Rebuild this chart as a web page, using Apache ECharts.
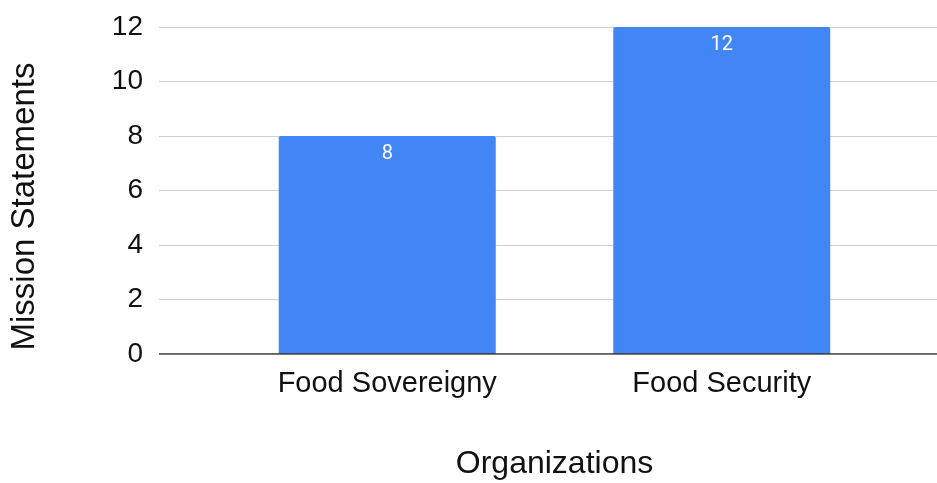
<!DOCTYPE html>
<html>
<head>
<meta charset="utf-8">
<script src="https://cdn.jsdelivr.net/npm/echarts@6/dist/echarts.min.js"></script>
<style>html,body{margin:0;padding:0;background:#fff}#c{width:937px;height:483px}</style>
</head>
<body>
<div id="c"></div>
<script>
const categories = ["Food Sovereigny", "Food Security"];
const values = [8, 12];
const yTicks = [0, 2, 4, 6, 8, 10, 12];

const FONT = "'Liberation Sans', Arial, sans-serif";
const chart = echarts.init(document.getElementById('c'));
chart.setOption({
  animation: false,
  grid: [
    { left: 159, right: 0, top: 27, bottom: 129, outerBoundsMode: 'none', containLabel: false },
    { left: 220, right: 48, top: 27, bottom: 129, outerBoundsMode: 'none', containLabel: false }
  ],
  xAxis: [
    { gridIndex: 0, type: 'value', min: 0, max: 1, show: false },
    {
      gridIndex: 1, type: 'category', data: categories,
      axisLine: { show: false }, axisTick: { show: false },
      axisLabel: { color: '#111', fontSize: 29, fontFamily: FONT, margin: 15 },
      name: 'Organizations', nameLocation: 'middle', nameGap: 94,
      nameTextStyle: { color: '#111', fontSize: 32, fontFamily: FONT }
    }
  ],
  yAxis: [
    {
      gridIndex: 0, type: 'value', min: yTicks[0], max: yTicks[yTicks.length - 1], interval: 2,
      axisLine: { show: false }, axisTick: { show: false },
      axisLabel: { color: '#111', fontSize: 28, fontFamily: FONT, margin: 16 },
      splitLine: { lineStyle: { color: '#d0d0d0', width: 1 } },
      name: 'Mission Statements', nameLocation: 'middle', nameGap: 118,
      nameTextStyle: { color: '#111', fontSize: 33, fontFamily: FONT, padding: [0, 32, 0, 0] }
    },
    {
      gridIndex: 1, type: 'value', min: yTicks[0], max: yTicks[yTicks.length - 1], interval: 2,
      show: false, splitLine: { show: false }
    }
  ],
  series: [
    {
      type: 'bar', xAxisIndex: 1, yAxisIndex: 1, data: values, barWidth: 217,
      itemStyle: { color: '#4285f4', borderRadius: [2, 2, 0, 0] },
      label: { show: true, position: 'insideTop', distance: 8, color: '#fff', fontSize: 20, fontFamily: "Roboto, sans-serif" }
    },
    {
      type: 'line', xAxisIndex: 0, yAxisIndex: 0, data: [[0, 0], [1, 0]],
      symbol: 'none', silent: true, lineStyle: { color: '#333', width: 1.5 }, z: 5
    }
  ]
});
</script>
</body>
</html>
